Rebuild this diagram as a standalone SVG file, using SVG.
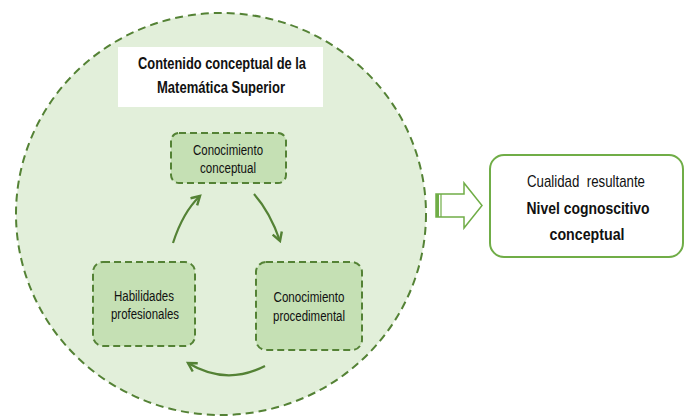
<svg xmlns="http://www.w3.org/2000/svg" width="689" height="416" viewBox="0 0 689 416">
<style>
text{font-family:"Liberation Sans Narrow","Liberation Sans",Arial,sans-serif;fill:#111;text-anchor:middle}
.t{font-size:17px;font-weight:bold}
.n{font-size:15.5px}
.r{font-size:17px}
.rb{font-size:17px;font-weight:bold}
.node{fill:#c5e0b4;stroke:#548235;stroke-width:2;stroke-dasharray:7 4}
.conn{fill:none;stroke:#548235;stroke-width:2.2;marker-end:url(#ah)}
</style>
<defs>
<marker id="ah" viewBox="0 0 10 10" refX="8" refY="5" markerWidth="5.5" markerHeight="5.5" orient="auto" markerUnits="strokeWidth">
<path d="M1,1 L8,5 L1,9" fill="none" stroke="#548235" stroke-width="2"/>
</marker>
</defs>
<g id="container">
<ellipse cx="221" cy="214" rx="205" ry="201" fill="#e2efda" stroke="#548235" stroke-width="2" stroke-dasharray="8 5"/>
</g>
<g id="title">
<rect x="118" y="47" width="205" height="60" fill="#ffffff"/>
<text class="t" x="222" y="69" textLength="168" lengthAdjust="spacingAndGlyphs">Contenido conceptual de la</text>
<text class="t" x="221" y="93" textLength="128" lengthAdjust="spacingAndGlyphs">Matemática Superior</text>
</g>
<g id="node-conceptual">
<rect class="node" x="171" y="133" width="115" height="50" rx="8"/>
<text class="n" x="228" y="155" textLength="70" lengthAdjust="spacingAndGlyphs">Conocimiento</text>
<text class="n" x="228" y="173" textLength="56" lengthAdjust="spacingAndGlyphs">conceptual</text>
</g>
<g id="node-habilidades">
<rect class="node" x="93" y="262" width="102" height="84" rx="10"/>
<text class="n" x="144" y="301" textLength="60" lengthAdjust="spacingAndGlyphs">Habilidades</text>
<text class="n" x="145" y="319" textLength="68" lengthAdjust="spacingAndGlyphs">profesionales</text>
</g>
<g id="node-procedimental">
<rect class="node" x="256" y="262" width="106" height="88" rx="10"/>
<text class="n" x="309" y="302" textLength="71" lengthAdjust="spacingAndGlyphs">Conocimiento</text>
<text class="n" x="309" y="321" textLength="72" lengthAdjust="spacingAndGlyphs">procedimental</text>
</g>
<g id="connectors">
<path class="conn" d="M173,243 Q183,212 200,196"/>
<path class="conn" d="M254,194 Q270,212 280,241"/>
<path class="conn" d="M265,366 Q226,386 188,363"/>
</g>
<g id="block-arrow">
<path d="M436,194 L464,194 L464,183 L482,205.5 L464,228 L464,217 L436,217 Z" fill="#ffffff" stroke="#70ad47" stroke-width="1.5"/>
<rect x="436" y="194" width="3" height="23" fill="#70ad47"/>
<line x1="441" y1="194" x2="441" y2="217" stroke="#70ad47" stroke-width="1.2"/>
</g>
<g id="result">
<rect x="490" y="155" width="193" height="102" rx="14" fill="#ffffff" stroke="#70ad47" stroke-width="2"/>
<text class="r" x="586" y="187" textLength="118" lengthAdjust="spacingAndGlyphs" xml:space="preserve">Cualidad  resultante</text>
<text class="rb" x="588" y="214" textLength="123" lengthAdjust="spacingAndGlyphs">Nivel cognoscitivo</text>
<text class="rb" x="587" y="240" textLength="75" lengthAdjust="spacingAndGlyphs">conceptual</text>
</g>
</svg>
